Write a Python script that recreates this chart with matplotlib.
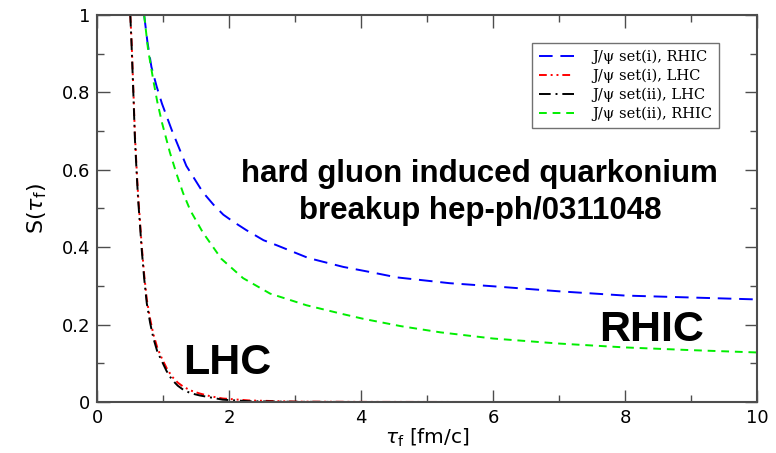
import matplotlib.pyplot as plt
from matplotlib.ticker import MultipleLocator, FuncFormatter

# survival probability S(tau_f) for each J/psi set
tau_lhc = [0.50, 0.52, 0.55, 0.57, 0.60, 0.62, 0.65, 0.67, 0.71, 0.75, 0.80, 0.85, 0.91, 0.98, 1.05, 1.13, 1.22, 1.30, 1.41, 1.55, 1.71, 1.90, 2.30, 3.00, 4.00, 6.00, 8.00, 10.00]
s_lhc_i = [1.00, 0.93, 0.79, 0.69, 0.59, 0.53, 0.46, 0.41, 0.33, 0.265, 0.215, 0.175, 0.140, 0.112, 0.088, 0.066, 0.050, 0.040, 0.030, 0.022, 0.015, 0.009, 0.004, 0.001, 0.0003, 0.0, 0.0, 0.0]
s_lhc_ii = [1.00, 0.92, 0.78, 0.68, 0.58, 0.52, 0.45, 0.40, 0.32, 0.255, 0.205, 0.165, 0.130, 0.105, 0.080, 0.058, 0.042, 0.032, 0.023, 0.017, 0.012, 0.006, 0.002, 0.0005, 0.0, 0.0, 0.0, 0.0]

tau_rhic_i = [0.71, 0.76, 0.82, 0.90, 0.98, 1.13, 1.35, 1.60, 1.76, 1.91, 2.06, 2.26, 2.52, 2.72, 3.20, 3.73, 4.13, 4.54, 5.34, 6.0, 7.0, 8.0, 9.0, 10.0]
s_rhic_i = [1.00, 0.93, 0.866, 0.815, 0.771, 0.702, 0.610, 0.542, 0.510, 0.484, 0.466, 0.444, 0.418, 0.405, 0.372, 0.349, 0.336, 0.322, 0.307, 0.299, 0.286, 0.275, 0.270, 0.265]

tau_rhic_ii = [0.71, 0.77, 0.85, 0.91, 0.98, 1.10, 1.20, 1.30, 1.41, 1.60, 1.88, 2.21, 2.62, 3.17, 3.70, 4.03, 4.60, 5.20, 6.0, 7.0, 8.0, 9.0, 10.0]
s_rhic_ii = [1.00, 0.91, 0.830, 0.775, 0.722, 0.645, 0.590, 0.540, 0.495, 0.438, 0.370, 0.320, 0.280, 0.250, 0.228, 0.215, 0.196, 0.180, 0.164, 0.151, 0.141, 0.134, 0.128]

legend_labels = ['J/\u03c8 set(i), RHIC', 'J/\u03c8 set(i), LHC',
                 'J/\u03c8 set(ii), LHC', 'J/\u03c8 set(ii), RHIC']

plt.rcParams['font.family'] = ['Liberation Sans', 'DejaVu Sans']
plt.rcParams['mathtext.fontset'] = 'dejavusans'

fig = plt.figure(figsize=(7.76, 4.53), dpi=100)
ax = fig.add_axes([0.1254, 0.1126, 0.8501, 0.8543])

ax.plot(tau_rhic_i, s_rhic_i, color='#0000ff', lw=1.4, ls=(0, (7, 4)),
        label=legend_labels[0])
ax.plot(tau_lhc, s_lhc_i, color='#ff0000', lw=1.4, ls=(0, (4, 2, 1, 2, 1, 2)),
        label=legend_labels[1])
ax.plot(tau_lhc, s_lhc_ii, color='black', lw=1.4, ls=(0, (6, 2.5, 1, 2.5)),
        label=legend_labels[2])
ax.plot(tau_rhic_ii, s_rhic_ii, color='#00ee00', lw=1.4, ls=(0, (4, 3)),
        label=legend_labels[3])

ax.set_xlim(0, 10)
ax.set_ylim(0, 1)
ax.xaxis.set_major_locator(MultipleLocator(2))
ax.xaxis.set_minor_locator(MultipleLocator(1))
ax.yaxis.set_major_locator(MultipleLocator(0.2))
ax.yaxis.set_minor_locator(MultipleLocator(0.1))
ax.xaxis.set_major_formatter(FuncFormatter(lambda v, p: f'{v:g}'))
ax.yaxis.set_major_formatter(FuncFormatter(lambda v, p: f'{v:g}'))
ax.tick_params(which='both', direction='in', top=True, right=True,
               color='0.3', width=1.0)
ax.tick_params(which='major', length=9)
ax.tick_params(which='minor', length=5)
ax.tick_params(axis='x', pad=5)
ax.tick_params(axis='y', pad=5)
for lbl in ax.get_xticklabels() + ax.get_yticklabels():
    lbl.set_fontfamily('DejaVu Sans')
    lbl.set_fontsize(13)
for sp in ax.spines.values():
    sp.set_color('0.3')
    sp.set_linewidth(1.5)

ax.set_xlabel(r'$\tau_{\rm f}$ [fm/c]', fontsize=14.5, family='DejaVu Sans', labelpad=0)
ax.set_ylabel(r'S($\tau_{\rm f}$)', fontsize=16, family='DejaVu Sans', labelpad=9)

ax.text(5.79, 0.568, 'hard gluon induced quarkonium', ha='center', va='baseline',
        fontsize=22.5, fontweight='bold')
ax.text(5.81, 0.474, 'breakup hep-ph/0311048', ha='center', va='baseline',
        fontsize=22.5, fontweight='bold')
ax.text(1.30, 0.073, 'LHC', ha='left', va='baseline', fontsize=31, fontweight='bold')
ax.text(7.61, 0.158, 'RHIC', ha='left', va='baseline', fontsize=31, fontweight='bold')

leg = ax.legend(loc='upper right', bbox_to_anchor=(0.942, 0.928),
                prop={'family': 'DejaVu Serif', 'size': 10.5},
                frameon=True, fancybox=False, handlelength=2.4,
                borderpad=0.45, labelspacing=0.33, handletextpad=1.25,
                borderaxespad=0)
leg.get_frame().set_edgecolor('0.3')
leg.get_frame().set_linewidth(1.0)

fig.savefig('out.png', dpi=100)
